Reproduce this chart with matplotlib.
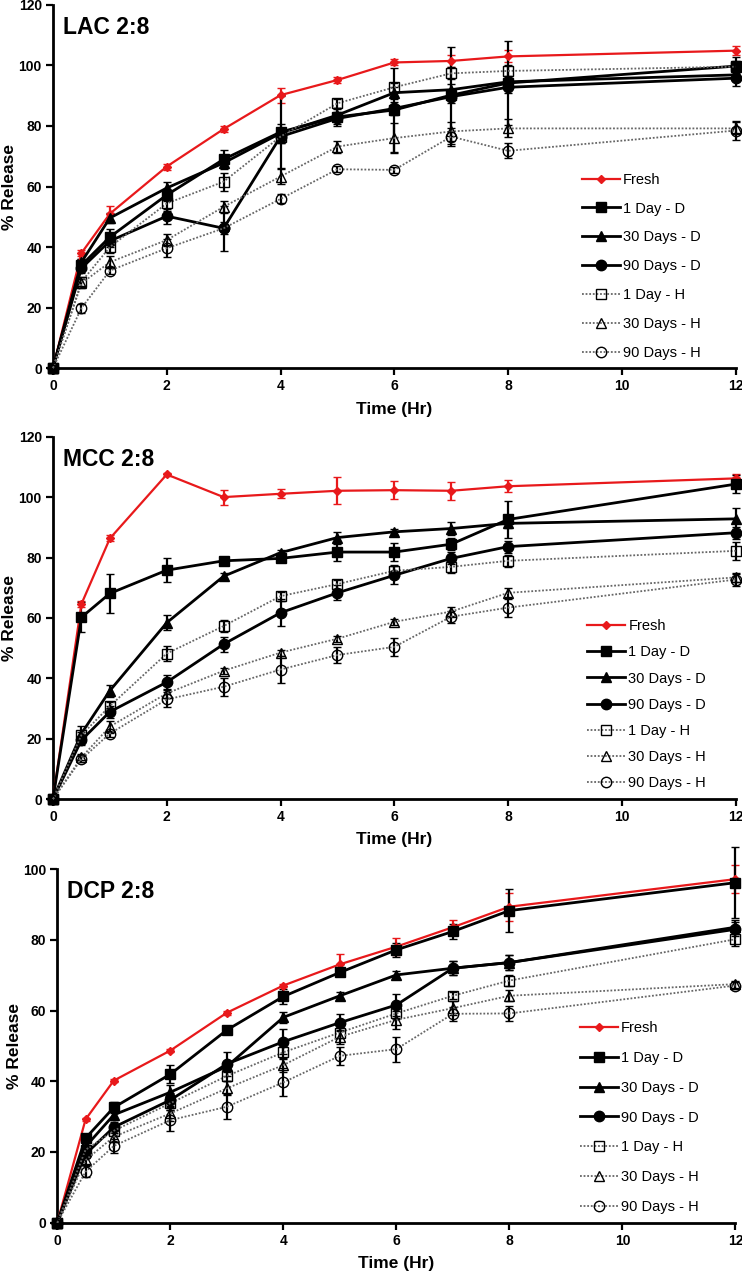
import matplotlib
matplotlib.use("Agg")
import matplotlib.pyplot as plt

plt.rcParams["font.family"] = ["Liberation Sans", "DejaVu Sans"]

# sampling times (Hr)
time_hr = [0, 0.5, 1, 2, 3, 4, 5, 6, 7, 8, 12]

series_labels = ["Fresh", "1 Day - D", "30 Days - D", "90 Days - D",
                 "1 Day - H", "30 Days - H", "90 Days - H"]

# LAC 2:8
lac_fresh = [0, 38, 51, 66.6, 79, 90.2, 95.2, 101, 101.5, 103, 104.9]
lac_d1d = [0, 34, 43.3, 57.2, 69, 78, 83, 85.3, 90.2, 94.2, 99.8]
lac_d30d = [0, 35, 49.6, 59.5, 67.8, 77.6, 83.6, 91, 92, 94.6, 96.9]
lac_d90d = [0, 33, 42, 50.2, 46.2, 76.5, 82.5, 85.8, 89.7, 92.8, 95.8]
lac_h1d = [0, 28.5, 40, 54.4, 61.6, 76.5, 87.5, 92.8, 97.4, 98.2, 99.6]
lac_h30d = [0, 28, 35, 42.3, 53.3, 63.3, 73.2, 76, 78.2, 79.2, 79.2]
lac_h90d = [0, 19.8, 32.2, 39.6, 46.2, 55.9, 65.7, 65.5, 76.5, 71.8, 78.5]

lac_fresh_err = [0, 1, 2.5, 1, 1, 2.5, 1, 1, 2, 2, 1.5]
lac_d1d_err = [0, 2, 2.5, 2, 3, 12, 3, 14, 16, 14, 3]
lac_d30d_err = [0, 1, 1.5, 2, 2, 3, 2, 2, 2, 2, 2]
lac_d90d_err = [0, 1.5, 2, 2.5, 7.5, 2, 2, 2, 2, 2, 2.5]
lac_h1d_err = [0, 1.5, 2, 2.5, 3, 2, 1.5, 1.5, 2, 2, 2]
lac_h30d_err = [0, 1.5, 2, 2, 2, 2.5, 2, 5, 3, 3, 2]
lac_h90d_err = [0, 1.5, 1, 3, 2, 1.5, 1, 1, 3, 2.5, 3]

# MCC 2:8
mcc_fresh = [0, 64.6, 86.3, 107.5, 100, 101.1, 102.1, 102.3, 102.1, 103.6, 106.2]
mcc_d1d = [0, 60.2, 68.1, 75.8, 78.9, 79.7, 81.8, 81.8, 84.4, 92.6, 104.3]
mcc_d30d = [0, 21.7, 35.9, 58.4, 73.8, 81.6, 86.6, 88.5, 89.6, 91.3, 92.8]
mcc_d90d = [0, 19.5, 28.9, 38.7, 51.3, 61.7, 68.3, 74.1, 79.7, 83.6, 88.2]
mcc_h1d = [0, 21.2, 30.8, 48.2, 57.3, 67.2, 71.2, 75.6, 76.9, 78.9, 82.2]
mcc_h30d = [0, 13.8, 24, 35, 42.5, 48.5, 53.1, 58.7, 62.1, 68.3, 73.4]
mcc_h90d = [0, 13.2, 21.7, 33, 37.2, 42.9, 47.7, 50.4, 60.4, 63.4, 72.7]

mcc_fresh_err = [0, 1, 1, 0.5, 2.5, 1.5, 4.5, 3, 3, 2, 1.5]
mcc_d1d_err = [0, 5, 6.5, 4, 1, 1, 3, 3, 2, 6, 3]
mcc_d30d_err = [0, 2.5, 2, 2.5, 1, 1, 2, 1, 2, 1.5, 3.5]
mcc_d90d_err = [0, 1.5, 2, 2.5, 2.5, 4.5, 2.5, 3, 2, 2, 2]
mcc_h1d_err = [0, 1, 1.5, 2.5, 2, 1.5, 1.5, 2, 2, 2, 3]
mcc_h30d_err = [0, 1, 2, 1.5, 1, 1, 1, 1, 1.5, 1.5, 1.5]
mcc_h90d_err = [0, 1, 1, 2.5, 3, 4.5, 2.5, 3, 2, 3, 2]

# DCP 2:8
dcp_fresh = [0, 29.2, 40.2, 48.7, 59.4, 67.1, 73.1, 78.1, 83.6, 89.4, 97.2]
dcp_d1d = [0, 23.9, 32.6, 42, 54.5, 64, 70.8, 77.2, 82.4, 88.3, 96.2]
dcp_d30d = [0, 21.5, 30.5, 36.9, 44.2, 58.1, 64.2, 70.1, 72, 73.6, 83.6]
dcp_d90d = [0, 19.4, 27, 34.7, 44.9, 51.2, 56.6, 61.6, 72, 73.6, 83]
dcp_h1d = [0, 20.6, 26, 33.8, 41.5, 48.2, 53.8, 59.2, 64.2, 68.5, 80.2]
dcp_h30d = [0, 17.7, 24.3, 30.9, 38, 44.6, 52.6, 57.4, 60.7, 64.2, 67.5]
dcp_h90d = [0, 14.4, 21.7, 29, 32.8, 39.7, 47.2, 49.1, 59.1, 59.2, 67.1]

dcp_fresh_err = [0, 0.5, 0.5, 0.5, 0.5, 0.5, 3, 2.5, 2, 4, 4]
dcp_d1d_err = [0, 1, 1.5, 2.5, 1, 2, 1, 2, 2, 6, 10]
dcp_d30d_err = [0, 1, 1.5, 2, 1.5, 1.5, 1, 1, 2, 2, 2]
dcp_d90d_err = [0, 1, 1.5, 2, 3.5, 3.5, 2.5, 3, 2, 2, 2]
dcp_h1d_err = [0, 1, 1.5, 2, 1.5, 2, 1.5, 1.5, 1, 1.5, 2]
dcp_h30d_err = [0, 1, 1.5, 2, 2, 2, 2, 2.5, 2, 1.5, 1]
dcp_h90d_err = [0, 1.5, 2, 3, 3.5, 4, 2.5, 3.5, 2, 2, 1]

RED = "#e8191b"
DOT = (0, (1, 1))

# (colour, linestyle, linewidth, marker, markersize, facecolor)
styles = [
    (RED, "-", 1.6, "D", 4.5, RED),
    ("black", "-", 2.0, "s", 7.5, "black"),
    ("black", "-", 2.0, "^", 7.5, "black"),
    ("black", "-", 2.0, "o", 7.5, "black"),
    ("0.4", DOT, 1.3, "s", 7.5, "none"),
    ("0.4", DOT, 1.3, "^", 7.5, "none"),
    ("0.4", DOT, 1.3, "o", 7.5, "none"),
]


def draw_panel(ax, title, values, errors, ymax, legend_pos, label_gap):
    for vals, errs, lab, st in zip(values, errors, series_labels, styles):
        color, ls, lw, mk, ms, fc = st
        ecol = RED if color == RED else "black"
        line, caps, bars = ax.errorbar(
            time_hr, vals, yerr=errs, color=color, ls=ls, lw=lw,
            marker=mk, ms=ms, mfc=fc, mec=ecol, mew=1.0,
            ecolor=ecol, elinewidth=1.6, capsize=3, capthick=1.6,
            label=lab, clip_on=False, zorder=3)
        for c in caps:
            c.set_clip_on(False)
        for b in bars:
            b.set_clip_on(False)

    ax.set_xlim(0, 12)
    ax.set_ylim(0, ymax)
    ax.set_xticks(range(0, 13, 2))
    ax.set_yticks(range(0, ymax + 1, 20))
    for s in ["top", "right"]:
        ax.spines[s].set_visible(False)
    for s in ["left", "bottom"]:
        ax.spines[s].set_linewidth(2)
    ax.tick_params(direction="out", length=5, width=1.6, labelsize=10, pad=3)
    for t in ax.get_xticklabels() + ax.get_yticklabels():
        t.set_fontweight("bold")
    ax.set_xlabel("Time (Hr)", fontsize=12.5, fontweight="bold", labelpad=6)
    ax.set_ylabel("% Release", fontsize=12.5, fontweight="bold", labelpad=1)
    ax.text(0.015, 0.97, title, transform=ax.transAxes, fontsize=16.5,
            fontweight="bold", va="top", ha="left")

    h, l = ax.get_legend_handles_labels()
    h = [x[0] for x in h]
    ax.legend(h, l, loc="upper left", bbox_to_anchor=legend_pos,
              frameon=False, fontsize=10.5, handlelength=2.6,
              handletextpad=0.2, labelspacing=label_gap, borderpad=0,
              borderaxespad=0)


fig = plt.figure(figsize=(7.42, 12.74), dpi=100)
ax1 = fig.add_axes([0.0714, 0.7111, 0.920, 0.285])
ax2 = fig.add_axes([0.0714, 0.3728, 0.920, 0.2844])
ax3 = fig.add_axes([0.0772, 0.0403, 0.914, 0.2774])

draw_panel(ax1, "LAC 2:8",
           [lac_fresh, lac_d1d, lac_d30d, lac_d90d, lac_h1d, lac_h30d, lac_h90d],
           [lac_fresh_err, lac_d1d_err, lac_d30d_err, lac_d90d_err,
            lac_h1d_err, lac_h30d_err, lac_h90d_err],
           120, (0.775, 0.538), 1.02)
draw_panel(ax2, "MCC 2:8",
           [mcc_fresh, mcc_d1d, mcc_d30d, mcc_d90d, mcc_h1d, mcc_h30d, mcc_h90d],
           [mcc_fresh_err, mcc_d1d_err, mcc_d30d_err, mcc_d90d_err,
            mcc_h1d_err, mcc_h30d_err, mcc_h90d_err],
           120, (0.783, 0.496), 0.83)
draw_panel(ax3, "DCP 2:8",
           [dcp_fresh, dcp_d1d, dcp_d30d, dcp_d90d, dcp_h1d, dcp_h30d, dcp_h90d],
           [dcp_fresh_err, dcp_d1d_err, dcp_d30d_err, dcp_d90d_err,
            dcp_h1d_err, dcp_h30d_err, dcp_h90d_err],
           100, (0.771, 0.571), 1.09)

fig.savefig("out.png", dpi=100)
